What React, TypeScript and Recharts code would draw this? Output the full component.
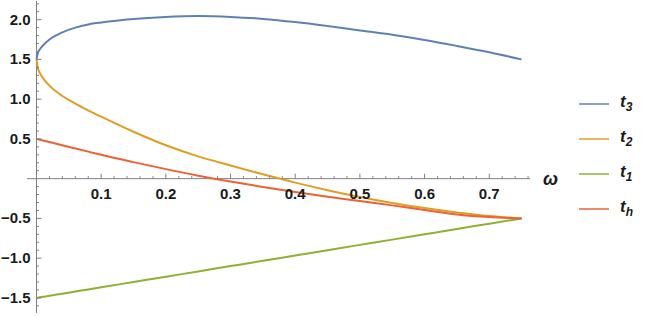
import { Legend, Line, LineChart, ReferenceLine, XAxis, YAxis } from 'recharts'

// omega samples (denser near 0 where t2 / t3 split off vertically)
const omega = [
  0, 0.0025, 0.005, 0.01, 0.02, 0.04, 0.06, 0.08, 0.1, 0.15, 0.2, 0.25, 0.3,
  0.35, 0.4, 0.45, 0.5, 0.55, 0.6, 0.65, 0.7, 0.75,
]
const t3 = [
  1.5, 1.59, 1.625, 1.675, 1.75, 1.84, 1.9, 1.94, 1.965, 2.01, 2.035, 2.045,
  2.035, 2.01, 1.97, 1.92, 1.865, 1.81, 1.745, 1.67, 1.59, 1.5,
]
const t2 = [
  1.5, 1.38, 1.33, 1.265, 1.17, 1.04, 0.945, 0.86, 0.78, 0.59, 0.42, 0.28,
  0.165, 0.055, -0.05, -0.145, -0.23, -0.305, -0.37, -0.425, -0.47, -0.5,
]
const t1 = [
  -1.5, -1.497, -1.493, -1.487, -1.473, -1.447, -1.42, -1.393, -1.367, -1.3,
  -1.233, -1.167, -1.1, -1.033, -0.967, -0.9, -0.833, -0.767, -0.7, -0.633,
  -0.567, -0.5,
]
const th = [
  0.5, 0.495, 0.49, 0.48, 0.46, 0.42, 0.38, 0.34, 0.3, 0.208, 0.12, 0.037,
  -0.037, -0.105, -0.168, -0.227, -0.282, -0.336, -0.395, -0.45, -0.483, -0.5,
]

const xMajor = [0.1, 0.2, 0.3, 0.4, 0.5, 0.6, 0.7]
const yMajor = [-1.5, -1.0, -0.5, 0.5, 1.0, 1.5, 2.0]
const xTicks = Array.from({ length: 38 }, (_, i) => +((i + 1) * 0.02).toFixed(2))
const yTicks = Array.from({ length: 39 }, (_, i) => +(-1.6 + i * 0.1).toFixed(1)).filter(
  (v) => v !== 0
)

const series = [
  { key: 't3', sub: '3', color: '#5E81B5', values: t3 },
  { key: 't2', sub: '2', color: '#E19C24', values: t2 },
  { key: 't1', sub: '1', color: '#8FB032', values: t1 },
  { key: 'th', sub: 'h', color: '#EB6235', values: th },
]

const data = omega.map((w, i) => {
  const row: Record<string, number> = { w }
  series.forEach((s) => (row[s.key] = s.values[i]))
  return row
})

const W = 646
const H = 316
// axes get 1px each (a 0-size axis is not drawn), so margins are 1px smaller
const margin = { top: 1, right: 116, bottom: 2, left: 26 }
const xDomain = [-0.0147, 0.763]
const yDomain = [-1.69, 2.235]

// where the axes cross (data origin), in pixels
const plotLeft = margin.left + 1
const plotW = W - plotLeft - margin.right
const plotH = H - margin.top - margin.bottom - 1
const X0 = plotLeft + ((0 - xDomain[0]) / (xDomain[1] - xDomain[0])) * plotW
const Y0 = margin.top + ((yDomain[1] - 0) / (yDomain[1] - yDomain[0])) * plotH

const axisColor = '#808080'
const labelStyle = {
  fontFamily: 'Liberation Sans, Arial, sans-serif',
  fontSize: 15,
  fontWeight: 700,
  fill: '#1a1a1a',
}

const isMajor = (list: number[], v: number) => list.some((m) => Math.abs(m - v) < 1e-6)
const fmt = (v: number) => (v < 0 ? '\u2212' : '') + Math.abs(v).toFixed(1)

function XTick(props: any) {
  const { x, payload } = props
  const major = isMajor(xMajor, payload.value)
  return (
    <g>
      <line x1={x} x2={x} y1={Y0} y2={Y0 - (major ? 5 : 2.5)} stroke={axisColor} />
      {major && (
        <text x={x} y={Y0 + 20} textAnchor="middle" style={labelStyle}>
          {fmt(payload.value)}
        </text>
      )}
    </g>
  )
}

function YTick(props: any) {
  const { y, payload } = props
  const major = isMajor(yMajor, payload.value)
  return (
    <g>
      <line x1={X0} x2={X0 + (major ? 5 : 2.5)} y1={y} y2={y} stroke={axisColor} />
      {major && (
        <text x={X0 - 6} y={y + 5} textAnchor="end" style={labelStyle}>
          {fmt(payload.value)}
        </text>
      )}
    </g>
  )
}

function LegendBox() {
  return (
    <div style={{ fontFamily: 'Liberation Sans, Arial, sans-serif' }}>
      {series.map((s) => (
        <div
          key={s.key}
          style={{ display: 'flex', alignItems: 'center', height: 35 }}
        >
          <svg width={32} height={4}>
            <line x1={1} x2={31} y1={2} y2={2} stroke={s.color} strokeWidth={1.5} />
          </svg>
          <span
            style={{
              marginLeft: 10,
              fontSize: 17,
              fontStyle: 'italic',
              fontWeight: 700,
              color: '#1a1a1a',
            }}
          >
            t<sub style={{ fontSize: 12 }}>{s.sub}</sub>
          </span>
        </div>
      ))}
    </div>
  )
}

export default function App() {
  return (
    <div style={{ position: 'absolute', left: 0, top: 0, width: W, height: H }}>
      <LineChart width={W} height={H} data={data} margin={margin}>
        <XAxis
          dataKey="w"
          type="number"
          domain={xDomain}
          allowDataOverflow
          ticks={xTicks}
          interval={0}
          height={1}
          axisLine={false}
          tickLine={false}
          tickSize={0}
          tick={<XTick />}
        />
        <YAxis
          type="number"
          domain={yDomain}
          allowDataOverflow
          ticks={yTicks}
          interval={0}
          width={1}
          axisLine={false}
          tickLine={false}
          tickSize={0}
          tick={<YTick />}
        />
        <ReferenceLine
          y={0}
          stroke={axisColor}
          label={{
            value: 'ω',
            position: 'right',
            offset: 13,
            style: {
              fontFamily: 'Liberation Sans, Arial, sans-serif',
              fontSize: 18,
              fontStyle: 'italic',
              fontWeight: 700,
              fill: '#1a1a1a',
            },
          }}
        />
        <ReferenceLine x={0} stroke={axisColor} />
        {series.map((s) => (
          <Line
            key={s.key}
            dataKey={s.key}
            name={s.key}
            type="monotone"
            stroke={s.color}
            strokeWidth={2}
            dot={false}
            isAnimationActive={false}
          />
        ))}
        <Legend
          layout="vertical"
          verticalAlign="middle"
          align="center"
          content={<LegendBox />}
          wrapperStyle={{ left: 578, top: 86, width: 68 }}
        />
      </LineChart>
    </div>
  )
}
